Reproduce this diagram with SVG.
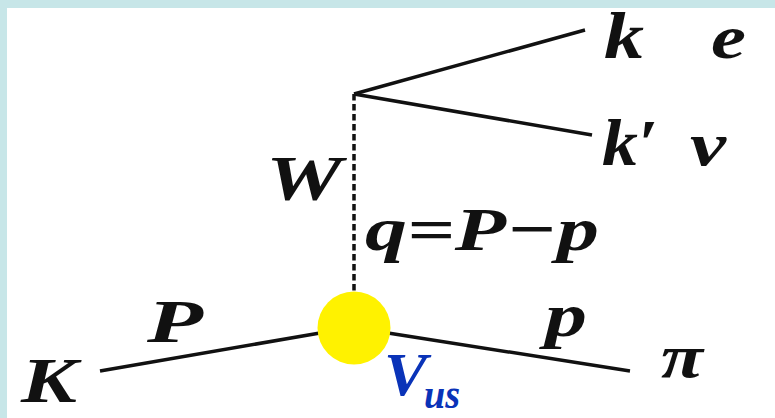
<svg xmlns="http://www.w3.org/2000/svg" width="775" height="418" viewBox="0 0 775 418">
<style>
.m{font-family:"Liberation Serif","Times New Roman",serif;font-weight:bold;font-style:italic;fill:#111}
.ln{stroke:#111;stroke-width:3.5;fill:none;stroke-linecap:butt}
.v{font-family:"Liberation Serif","Times New Roman",serif;font-weight:bold;font-style:italic;fill:#0a33b8}
</style>
<rect x="0" y="0" width="775" height="418" fill="#ffffff"/>
<rect x="0" y="0" width="775" height="8" fill="#c7e6e8"/>
<rect x="0" y="0" width="7" height="418" fill="#c7e6e8"/>
<g id="connectors">
<line class="ln" x1="354" y1="94" x2="585" y2="30"/>
<line class="ln" x1="354" y1="94" x2="592" y2="135"/>
<line class="ln" x1="354" y1="94" x2="354" y2="293" stroke-dasharray="6.5 3.5" stroke-width="3.2"/>
<line class="ln" x1="100" y1="371" x2="320" y2="333"/>
<line class="ln" x1="388" y1="333" x2="630" y2="371"/>
</g>
<g id="vertex">
<circle cx="354" cy="328" r="36.5" fill="#fff200"/>
</g>
<g id="labels">
<text class="m" x="21" y="402" font-size="64" textLength="56" lengthAdjust="spacingAndGlyphs">K</text>
<text class="m" x="147" y="342" font-size="62" textLength="56" lengthAdjust="spacingAndGlyphs">P</text>
<text class="m" x="545" y="336" font-size="62" textLength="42" lengthAdjust="spacingAndGlyphs">p</text>
<text class="m" x="661" y="377" font-size="62" textLength="42" lengthAdjust="spacingAndGlyphs">π</text>
<text class="m" x="266" y="200" font-size="64" textLength="76" lengthAdjust="spacingAndGlyphs">W</text>
<text class="m" x="365" y="250" font-size="62" textLength="234" lengthAdjust="spacingAndGlyphs">q=P−p</text>
<text class="m" x="604" y="58" font-size="66" textLength="40" lengthAdjust="spacingAndGlyphs">k</text>
<text class="m" x="711" y="58" font-size="62" textLength="35" lengthAdjust="spacingAndGlyphs">e</text>
<text class="m" x="602" y="165" font-size="66" textLength="56" lengthAdjust="spacingAndGlyphs">k′</text>
<text class="m" x="690" y="165" font-size="62" textLength="36" lengthAdjust="spacingAndGlyphs">ν</text>
<text class="v" x="384" y="395" font-size="62" textLength="43" lengthAdjust="spacingAndGlyphs">V</text>
<text class="v" x="424" y="408" font-size="42" textLength="36" lengthAdjust="spacingAndGlyphs">us</text>
</g>
</svg>
